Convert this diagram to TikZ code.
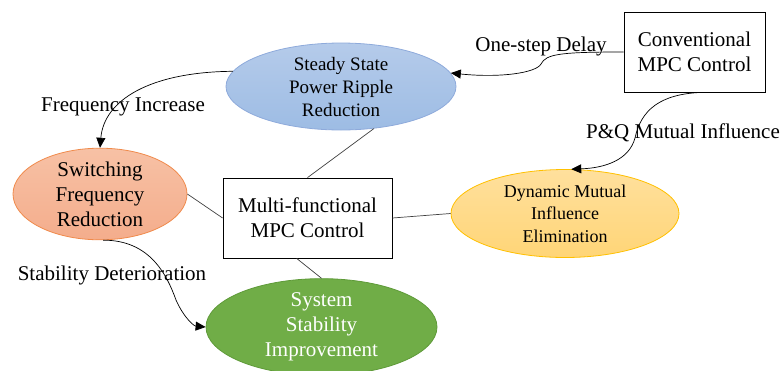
\documentclass[tikz,border=0pt]{standalone}
\usepackage{fontspec}
\setmainfont{Liberation Serif}
\usetikzlibrary{shapes.geometric,arrows.meta}

\definecolor{blueTop}{HTML}{B5CBEA}
\definecolor{blueBot}{HTML}{9DBCE4}
\definecolor{blueEdge}{HTML}{8EAADB}
\definecolor{orangeTop}{HTML}{F7C1A5}
\definecolor{orangeBot}{HTML}{F4AD8C}
\definecolor{orangeEdge}{HTML}{F08A4B}
\definecolor{yellowTop}{HTML}{FFE09D}
\definecolor{yellowBot}{HTML}{FFD577}
\definecolor{yellowEdge}{HTML}{FFC000}
\definecolor{greenFill}{HTML}{70AD47}
\definecolor{greenEdge}{HTML}{5E9A38}
\definecolor{lineGray}{HTML}{404040}

\tikzset{
  goal/.style={ellipse, inner sep=0pt, align=center, line width=0.8pt},
  ctrlbox/.style={rectangle, draw=black, line width=0.8pt, fill=white, align=center,
    inner sep=0pt, font=\fontsize{21}{25}\selectfont},
  link/.style={draw=lineGray, line width=0.7pt},
  flow/.style={draw=black, line width=0.7pt, -{Triangle[length=10pt,width=9pt]}},
  lbl/.style={font=\fontsize{21}{25}\selectfont, inner sep=0pt}
}

\begin{document}
\begin{tikzpicture}[x=1pt, y=-1pt]
  \useasboundingbox (0,0) rectangle (783,370);

  % goal ellipses
  \node[goal, draw=blueEdge, top color=blueTop, bottom color=blueBot,
        minimum width=230pt, minimum height=87pt, font=\fontsize{19}{23}\selectfont]
        (steady) at (341,86.5) {Steady State\\Power Ripple\\Reduction};
  \node[goal, draw=orangeEdge, top color=orangeTop, bottom color=orangeBot,
        minimum width=174pt, minimum height=88pt, font=\fontsize{21}{25}\selectfont]
        (switching) at (100,194) {Switching\\Frequency\\Reduction};
  \node[goal, draw=yellowEdge, top color=yellowTop, bottom color=yellowBot,
        minimum width=228pt, minimum height=88pt, font=\fontsize{18}{22.5}\selectfont]
        (dynamic) at (565,213.5) {Dynamic Mutual\\Influence\\Elimination};
  \node[goal, draw=greenEdge, fill=greenFill, text=white,
        minimum width=231pt, minimum height=84pt, font=\fontsize{21}{25}\selectfont]
        (system) at (321.5,327) {System\\Stability\\Improvement};

  % controller boxes
  \node[ctrlbox, minimum width=141pt, minimum height=80pt]
        (conv) at (694.5,52) {Conventional\\MPC Control};
  \node[ctrlbox, minimum width=169pt, minimum height=80pt]
        (multi) at (307.5,218) {Multi-functional\\MPC Control};

  % plain links from the multi-functional controller
  \draw[link] (multi.north) -- (steady.-52);
  \draw[link] (switching.east) -- (multi.west);
  \draw[link] (multi.east) -- (dynamic.west);
  \draw[link] (multi.-105) -- (system.north);

  % labelled arrows
  \draw[flow] (conv.west) .. controls (560,52) and (546,54) .. (541,64)
              .. controls (536,73) and (500,78) .. (steady.7);
  \draw[flow] (conv.-80) .. controls (660,94) and (641,110) .. (635,138)
              .. controls (629,160) and (605,168) .. (dynamic.82);
  \draw[flow] (steady.172) .. controls (150,72) and (104,100) .. (switching.north);
  \draw[flow] (switching.-86) .. controls (150,240) and (167,275) .. (176,300)
              .. controls (184,318) and (194,326) .. (system.180);

  % arrow labels
  \node[lbl] (lblDelay) at (541,46) {One-step Delay};
  \node[lbl] (lblPQ) at (683,133) {P\&Q Mutual Influence};
  \node[lbl] (lblFreq) at (123,107) {Frequency Increase};
  \node[lbl] (lblStab) at (112,275) {Stability Deterioration};
\end{tikzpicture}
\end{document}
